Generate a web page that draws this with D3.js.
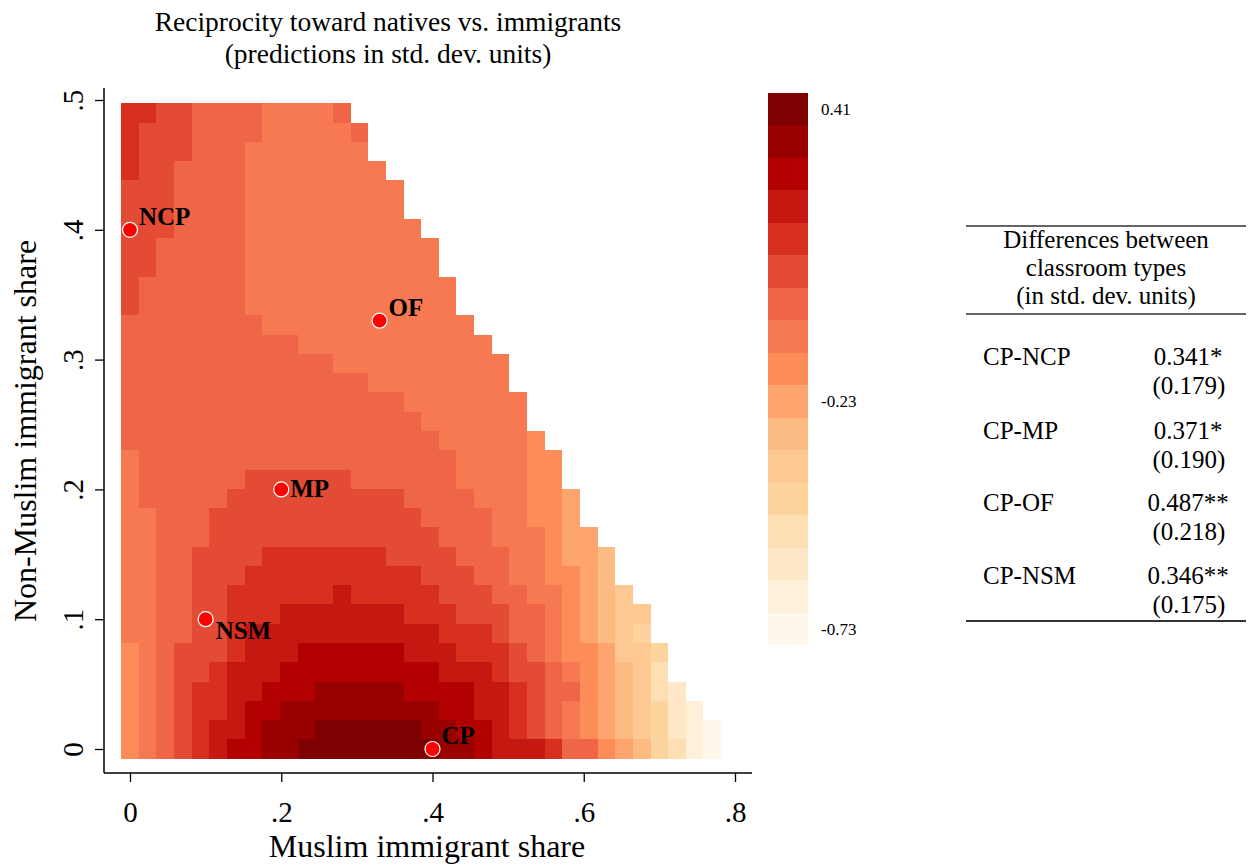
<!DOCTYPE html>
<html>
<head>
<meta charset="utf-8">
<script src="https://cdn.jsdelivr.net/npm/d3@7"></script>
<style>
  body { margin: 0; background: #fff; }
  text { font-family: "Liberation Serif", "Times New Roman", serif; fill: #000; }
</style>
</head>
<body>
<div id="chart"></div>
<script>
// ---- data ----
// grid of predictions: 34 x 34 cells, x = i*xStep, y = j*yStep
const xStep = 0.77 / 33, yStep = 0.49 / 33;
// level code per cell ("1" darkest .. "h" lightest, "." = no prediction), rows from top (y=.49) to bottom (y=0)
const levelCodes = "123456789abcdefgh";
const levelRows = [
  "5566777788887",
  "56667777888887",
  "56667778888888",
  "566777788888888",
  "6667777888888888",
  "6667777888888888",
  "66677778888888888",
  "667777788888888888",
  "667777788888888888",
  "6777777888888888888",
  "6777777888888888888",
  "77777777888888888888",
  "777777777788888888888",
  "7777777777778888888888",
  "7777777777777788888888",
  "77777777777777778888888",
  "77777777777777777888888",
  "777777777777777777888889",
  "8777777777777777777888899",
  "8777777666666777777888899",
  "8777776666666666777788899a",
  "8877766666666666677778899a",
  "8877766666666666667778889aa",
  "8877666655555556666777889aab",
  "88776665555555555666778899ab",
  "88776655555545555566677889abc",
  "88776655544444445556667789abcc",
  "88776654444444444455567789abcd",
  "987666544433333344455567899accd",
  "987665444333333333444566789abce",
  "987655443332222233334456779abcef",
  "987655433222222222334456789abcdfg",
  "987654432221111112233456789abcdfgh",
  "9876543322111111112234445779abdegh"
];
// value of each colour level (std. dev. units)
const levelValues = [0.41, 0.339, 0.268, 0.196, 0.125, 0.054, -0.018, -0.089, -0.16,
  -0.231, -0.303, -0.374, -0.445, -0.516, -0.588, -0.659, -0.73];
const barTicks = [0.41, -0.23, -0.73];

const xTicks = [0, 0.2, 0.4, 0.6, 0.8];
const yTicks = [0, 0.1, 0.2, 0.3, 0.4, 0.5];

const classrooms = [
  { name: "NCP", x: 0.00, y: 0.40 },
  { name: "OF",  x: 0.33, y: 0.33 },
  { name: "MP",  x: 0.20, y: 0.20 },
  { name: "NSM", x: 0.10, y: 0.10 },
  { name: "CP",  x: 0.40, y: 0.00 }
];

const tableHeader = ["Differences between", "classroom types", "(in std. dev. units)"];
const diffLabels = ["CP-NCP", "CP-MP", "CP-OF", "CP-NSM"];
const diffCoefs  = ["0.341*", "0.371*", "0.487**", "0.346**"];
const diffSEs    = ["(0.179)", "(0.190)", "(0.218)", "(0.175)"];

// ---- layout ----
const W = 1251, H = 865;
const labelPos = { NCP: [9, -5], OF: [9, -5], MP: [9, 8], NSM: [10, 20], CP: [9, -5] };

const svg = d3.select("#chart").append("svg")
  .attr("width", W).attr("height", H)
  .style("background", "#fff");

const x = d3.scaleLinear().domain([0, 0.8]).range([130, 735]);
const y = d3.scaleLinear().domain([0, 0.5]).range([749, 100]);

const colors = d3.quantize(d3.piecewise(d3.interpolateRgb, d3.schemeOrRd[9]), 17).reverse();
const color = d3.scaleOrdinal().domain(levelValues).range(colors);

// cells
const cells = [];
const nRows = levelRows.length;
levelRows.forEach((row, r) => {
  const j = nRows - 1 - r;
  row.split("").forEach((c, i) => {
    const k = levelCodes.indexOf(c);
    if (k < 0) return;
    cells.push({ cx: i * xStep, cy: j * yStep, v: levelValues[k] });
  });
});

// snap cell edges to whole pixels so neighbours meet without seams
const px = v => Math.round(v);
svg.append("g")
  .attr("shape-rendering", "crispEdges")
  .selectAll("rect")
  .data(cells)
  .join("rect")
  .attr("x", d => px(x(d.cx - xStep / 2)))
  .attr("y", d => px(y(d.cy + yStep / 2)))
  .attr("width", d => px(x(d.cx + xStep / 2)) - px(x(d.cx - xStep / 2)))
  .attr("height", d => px(y(d.cy - yStep / 2)) - px(y(d.cy + yStep / 2)))
  .attr("fill", d => color(d.v));

// classroom markers
const pts = svg.append("g");
pts.selectAll("circle")
  .data(classrooms)
  .join("circle")
  .attr("cx", d => x(d.x))
  .attr("cy", d => y(d.y))
  .attr("r", 7.5)
  .attr("fill", "#ff0000")
  .attr("stroke", "#fff")
  .attr("stroke-width", 1.2);
pts.selectAll("text")
  .data(classrooms)
  .join("text")
  .attr("x", d => x(d.x) + labelPos[d.name][0])
  .attr("y", d => y(d.y) + labelPos[d.name][1])
  .attr("font-size", 25)
  .attr("font-weight", "bold")
  .text(d => d.name);

// axes
const axisX = 104, axisY = 773;
const tickFmt = d => d === 0 ? "0" : d3.format(".1f")(d).replace(/^0/, "");

const gx = svg.append("g")
  .attr("transform", `translate(0,${axisY})`)
  .call(d3.axisBottom(x).tickValues(xTicks).tickSize(9).tickFormat(tickFmt));
gx.select(".domain").remove();
gx.selectAll(".tick line").attr("stroke", "#000").attr("stroke-width", 1.3);
gx.selectAll(".tick text")
  .attr("y", 49).attr("dy", null)
  .attr("font-size", 29)
  .attr("font-family", "Liberation Serif, serif");

const gy = svg.append("g")
  .attr("transform", `translate(${axisX},0)`)
  .call(d3.axisLeft(y).tickValues(yTicks).tickSize(9).tickFormat(tickFmt));
gy.select(".domain").remove();
gy.selectAll(".tick line").attr("stroke", "#000").attr("stroke-width", 1.3);
gy.selectAll(".tick text")
  .attr("x", null).attr("dy", null)
  .attr("text-anchor", "middle")
  .attr("transform", "translate(-21,0) rotate(-90)")
  .attr("font-size", 29)
  .attr("font-family", "Liberation Serif, serif");

// axis lines across the whole plot region
svg.append("line")
  .attr("x1", axisX).attr("x2", axisX)
  .attr("y1", y(0.5) - 12).attr("y2", axisY)
  .attr("stroke", "#000").attr("stroke-width", 1.5);
svg.append("line")
  .attr("x1", axisX).attr("x2", x(0.8) + 17)
  .attr("y1", axisY).attr("y2", axisY)
  .attr("stroke", "#000").attr("stroke-width", 1.5);

svg.append("text")
  .attr("x", 427).attr("y", 857)
  .attr("text-anchor", "middle")
  .attr("font-size", 32)
  .text("Muslim immigrant share");
svg.append("text")
  .attr("transform", "translate(36,431) rotate(-90)")
  .attr("text-anchor", "middle")
  .attr("font-size", 32)
  .text("Non-Muslim immigrant share");

// title
svg.append("text")
  .attr("x", 388).attr("y", 31)
  .attr("text-anchor", "middle").attr("font-size", 27.5)
  .text("Reciprocity toward natives vs. immigrants");
svg.append("text")
  .attr("x", 388).attr("y", 63)
  .attr("text-anchor", "middle").attr("font-size", 27.5)
  .text("(predictions in std. dev. units)");

// colour bar: one band per level, darkest on top
const band = d3.scaleBand().domain(levelValues).range([93, 645]);
const step = levelValues[0] - levelValues[1];
const cb = d3.scaleLinear()
  .domain([levelValues[16] - step / 2, levelValues[0] + step / 2])
  .range([645, 93]);
const gcb = svg.append("g");
gcb.append("g")
  .attr("shape-rendering", "crispEdges")
  .selectAll("rect")
  .data(levelValues)
  .join("rect")
  .attr("x", 768).attr("width", 40)
  .attr("y", d => px(band(d)))
  .attr("height", d => px(band(d) + band.bandwidth()) - px(band(d)))
  .attr("fill", d => color(d));
gcb.selectAll("text")
  .data(barTicks)
  .join("text")
  .attr("x", 821)
  .attr("y", d => cb(d))
  .attr("dy", "0.35em")
  .attr("font-size", 17)
  .text(d => d.toFixed(2));

// table of differences
const tb = svg.append("g");
const tL = 966, tR = 1246, tMid = 1106;
[[226, 1.5], [314, 1.5], [621, 2]].forEach(([yy, sw]) => {
  tb.append("line").attr("x1", tL).attr("x2", tR).attr("y1", yy).attr("y2", yy)
    .attr("stroke", "#333").attr("stroke-width", sw);
});
tb.selectAll("text.hd")
  .data(tableHeader)
  .join("text")
  .attr("class", "hd")
  .attr("x", tMid)
  .attr("y", (d, i) => 248 + i * 28)
  .attr("text-anchor", "middle")
  .attr("font-size", 25)
  .text(d => d);

const rowY = [365, 439, 511, 584];
tb.selectAll("text.lab")
  .data(diffLabels)
  .join("text")
  .attr("class", "lab")
  .attr("x", 983).attr("y", (d, i) => rowY[i])
  .attr("font-size", 25)
  .text(d => d);
tb.selectAll("text.coef")
  .data(diffCoefs)
  .join("text")
  .attr("class", "coef")
  .attr("x", 1188).attr("y", (d, i) => rowY[i])
  .attr("text-anchor", "middle")
  .attr("font-size", 25)
  .text(d => d);
tb.selectAll("text.se")
  .data(diffSEs)
  .join("text")
  .attr("class", "se")
  .attr("x", 1189).attr("y", (d, i) => rowY[i] + 29)
  .attr("text-anchor", "middle")
  .attr("font-size", 25)
  .text(d => d);
</script>
</body>
</html>
